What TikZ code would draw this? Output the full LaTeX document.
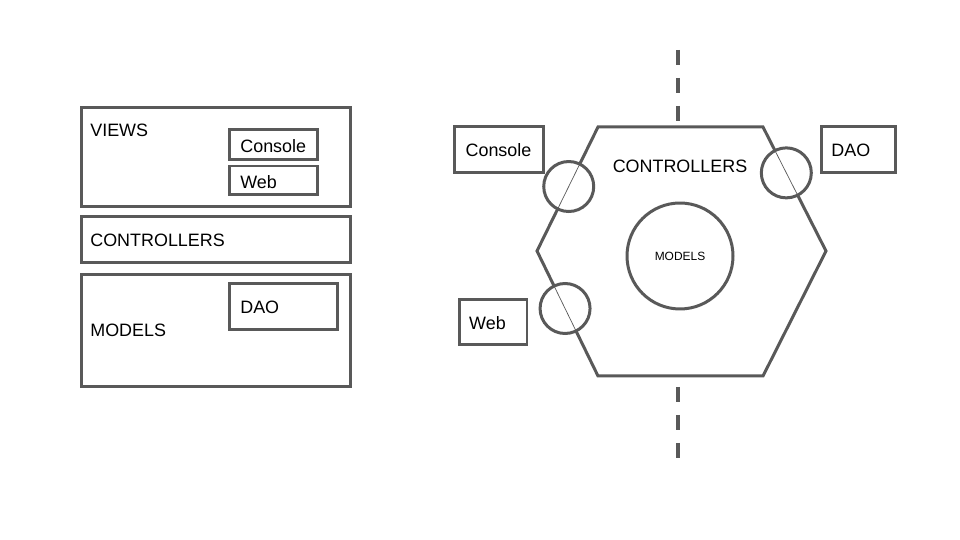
\documentclass[tikz,border=0pt]{standalone}
\usepackage{fontspec}
\setmainfont{Liberation Sans}
\usetikzlibrary{calc}
\definecolor{linegray}{RGB}{89,89,89}

\begin{document}
\begin{tikzpicture}[x=0.02cm, y=-0.02cm,
    box/.style={rectangle, draw=linegray, line width=0.06cm, inner sep=0pt},
    txt/.style={anchor=west, inner sep=0pt, font=\fontsize{10.2}{12}\selectfont},
    port/.style={circle, draw=linegray, fill=white, line width=0.06cm, minimum size=1cm, inner sep=0pt},
    hexline/.style={draw=linegray, line width=0.06cm, line join=miter},
    axisline/.style={draw=linegray, line width=0.08cm, dash pattern=on 0.3cm off 0.26cm},
    seam/.style={draw=linegray, line width=0.4pt}
]
    \useasboundingbox (0,0) rectangle (960,540);

    % Layered view
    \node[box, minimum width=5.4cm, minimum height=2cm] (views) at (216,157) {};
    \node[txt] (viewstxt) at (90,130) {VIEWS};
    \node[box, minimum width=1.78cm, minimum height=0.6cm] (lconsole) at (273.5,145) {};
    \node[txt] (lconsoletxt) at (240,146) {Console};
    \node[box, minimum width=1.78cm, minimum height=0.58cm] (lweb) at (273.5,180.5) {};
    \node[txt] (lwebtxt) at (240,182) {Web};

    \node[box, minimum width=5.4cm, minimum height=0.94cm] (lctrl) at (216,239.5) {};
    \node[txt] (lctrltxt) at (90,240) {CONTROLLERS};

    \node[box, minimum width=5.4cm, minimum height=2.26cm] (lmodels) at (216,330.5) {};
    \node[txt] (lmodelstxt) at (90,330) {MODELS};
    \node[box, minimum width=2.18cm, minimum height=0.94cm] (ldao) at (283.5,306.5) {};
    \node[txt] (ldaotxt) at (240,307) {DAO};

    % Hexagonal view
    \coordinate (axtop) at (678,50);
    \coordinate (axtopend) at (678,122);
    \coordinate (axbotstart) at (678,387);
    \coordinate (axbot) at (678,458);
    \draw[axisline] (axtop) -- (axtopend);
    \draw[axisline] (axbotstart) -- (axbot);

    \coordinate (htl) at (598,127);
    \coordinate (htr) at (763,127);
    \coordinate (hr) at (826,251);
    \coordinate (hbr) at (763,376);
    \coordinate (hbl) at (598,376);
    \coordinate (hl) at (537,251);
    \draw[hexline] (htl) -- (htr) -- (hr) -- (hbr) -- (hbl) -- (hl) -- cycle;

    \node[txt, anchor=center] (hexctrl) at (680,166) {CONTROLLERS};
    \node[port, minimum size=2.12cm, font=\fontsize{6.8}{8}\selectfont] (models) at (680,256) {MODELS};

    \node[port] (consoleport) at ($(htl)!0.48!(hl)$) {};
    \node[port] (webport) at ($(hl)!0.46!(hbl)$) {};
    \node[port] (daoport) at ($(htr)!0.37!(hr)$) {};

    \begin{scope}
        \clip (consoleport.center) circle (0.5cm);
        \draw[seam] (htl) -- (hl);
    \end{scope}
    \begin{scope}
        \clip (webport.center) circle (0.5cm);
        \draw[seam] (hl) -- (hbl);
    \end{scope}
    \begin{scope}
        \clip (daoport.center) circle (0.5cm);
        \draw[seam] (htr) -- (hr);
    \end{scope}

    \node[box, minimum width=1.8cm, minimum height=0.94cm] (rconsole) at (499,149.5) {};
    \node[txt, anchor=center] (rconsoletxt) at (498.5,150) {Console};
    \node[box, minimum width=1.36cm, minimum height=0.92cm] (rweb) at (493,322) {};
    \node[txt, anchor=center] (rwebtxt) at (487.5,323) {Web};
    \node[box, minimum width=1.48cm, minimum height=0.94cm] (rdao) at (858,149.5) {};
    \node[txt] (rdaotxt) at (831,150) {DAO};
\end{tikzpicture}
\end{document}
